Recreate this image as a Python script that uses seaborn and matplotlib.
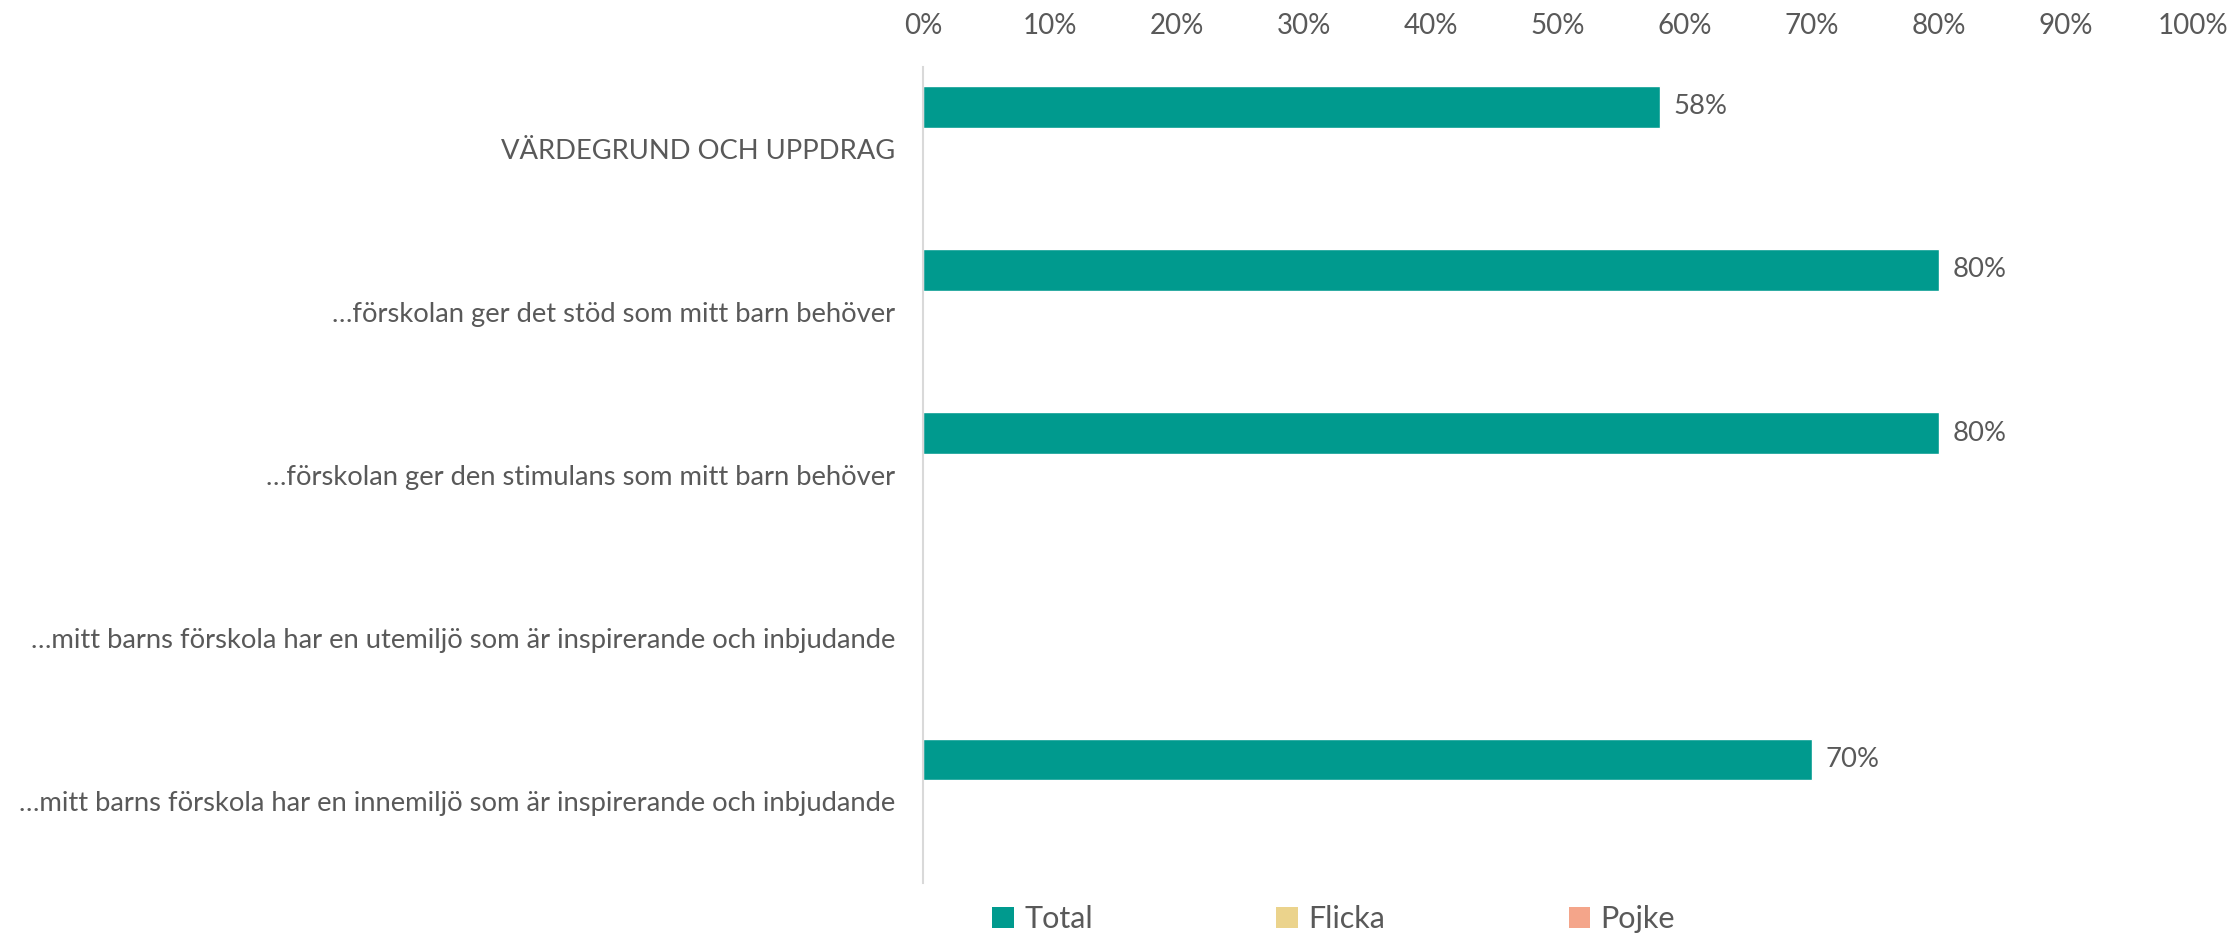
import numpy as np
import pandas as pd
import matplotlib
matplotlib.use('Agg')
import matplotlib.pyplot as plt
import seaborn as sns
from matplotlib.patches import Patch

# data
categories = [
    'VÄRDEGRUND OCH UPPDRAG',
    '…förskolan ger det stöd som mitt barn behöver',
    '…förskolan ger den stimulans som mitt barn behöver',
    '…mitt barns förskola har en utemiljö som är inspirerande och inbjudande',
    '…mitt barns förskola har en innemiljö som är inspirerande och inbjudande',
]
series = ['Total', 'Flicka', 'Pojke']
total = [0.58, 0.80, 0.80, np.nan, 0.70]
flicka = [np.nan] * 5
pojke = [np.nan] * 5
colors = ['#009A8E', '#EBD38C', '#F4A58A']
ticks = np.arange(0, 1.01, 0.1)

df = pd.DataFrame({
    'category': categories * 3,
    'series': ['Total'] * 5 + ['Flicka'] * 5 + ['Pojke'] * 5,
    'value': total + flicka + pojke,
})

sns.set_style('white')
plt.rcParams['font.family'] = ['Lato', 'DejaVu Sans']
text_col = '#595959'

fig = plt.figure(figsize=(22.34, 9.35), dpi=100)
ax = fig.add_axes([0.4132, 0.0556, 0.9816 - 0.4132, 0.9283 - 0.0556])

sns.barplot(data=df.dropna(), y='category', x='value', hue='series',
            order=categories, hue_order=series, palette=colors,
            orient='h', width=0.77, dodge=True, ax=ax, legend=False,
            saturation=1, errorbar=None)

ax.set_xlim(0, 1)
ax.set_ylim(len(categories) - 0.5, -0.5)
ax.xaxis.tick_top()
ax.set_xticks(ticks)
ax.set_xticklabels([f'{int(round(t * 100))}%' for t in ticks])
ax.tick_params(axis='x', length=0, pad=20, labelsize=20, labelcolor=text_col)
ax.tick_params(axis='y', length=0, pad=20, labelsize=19.7, labelcolor=text_col)
ax.set_xlabel('')
ax.set_ylabel('')
for s in ['top', 'right', 'bottom']:
    ax.spines[s].set_visible(False)
ax.spines['left'].set_color('#d9d9d9')
ax.spines['left'].set_linewidth(1.5)
ax.grid(False)

# value labels
for cont in ax.containers:
    for bar in cont:
        w = bar.get_width()
        if np.isfinite(w) and w > 0:
            ax.text(w + 0.011, bar.get_y() + bar.get_height() / 2,
                    f'{int(round(w * 100))}%', va='center', ha='left',
                    fontsize=19.7, color=text_col)

handles = [Patch(facecolor=c, edgecolor='none', label=s) for s, c in zip(series, colors)]
leg = fig.legend(handles=handles, loc='center', bbox_to_anchor=(0.597, 0.017),
                 ncol=3, frameon=False, fontsize=22, handlelength=0.7,
                 handleheight=0.7, handletextpad=0.35, columnspacing=6.0)
for t in leg.get_texts():
    t.set_color(text_col)

fig.savefig('out.png', dpi=100)
